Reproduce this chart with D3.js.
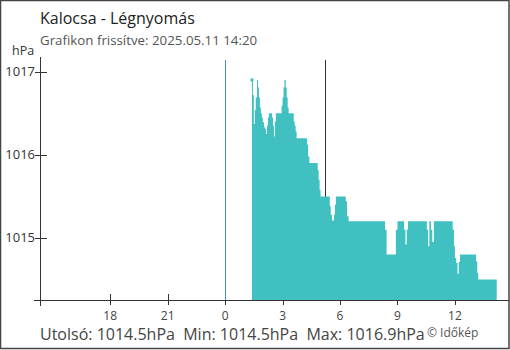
<!DOCTYPE html>
<html>
<head>
<meta charset="utf-8">
<script src="https://cdn.jsdelivr.net/npm/d3@7"></script>
<style>
  body { margin: 0; background: #fff; }
  svg { display: block; font-family: "Open Sans", sans-serif; }
</style>
</head>
<body>
<div id="chart"></div>
<script>
// Kalocsa légnyomás, 2025.05.11 (hPa)
var times = ["01:24","01:27","01:30","01:33","01:36","01:40","01:43","01:46","01:49","01:52",
  "01:55","01:58","02:02","02:05","02:08","02:11","02:14","02:17","02:27","02:30",
  "02:33","02:36","02:39","02:57","03:00","03:03","03:06","03:10","03:13","03:16",
  "03:19","03:35","03:38","03:41","03:44","04:17","04:20","04:24","04:50","04:53",
  "04:56","04:59","05:28","05:31","05:35","05:41","05:44","05:47","06:18","06:22",
  "06:27","08:21","08:26","08:55","09:00","09:21","09:25","09:29","09:33","10:32",
  "10:36","10:40","10:45","10:49","10:54","11:53","11:57","12:00","12:04","12:08",
  "12:12","12:16","13:06","13:10","13:13","14:11"];
var pressure = [1016.9,1016.72,1016.37,1016.54,1016.69,1016.9,1016.81,1016.69,1016.57,1016.5,
  1016.45,1016.39,1016.33,1016.31,1016.25,1016.35,1016.45,1016.5,1016.45,1016.35,
  1016.22,1016.4,1016.5,1016.59,1016.69,1016.81,1016.9,1016.81,1016.69,1016.57,
  1016.5,1016.4,1016.35,1016.28,1016.2,1016.12,1015.98,1015.9,1015.82,1015.7,
  1015.58,1015.5,1015.38,1015.28,1015.21,1015.28,1015.4,1015.5,1015.44,1015.26,
  1015.2,1015.1,1014.8,1015.1,1015.2,1015.1,1014.92,1015.1,1015.2,1015.1,
  1014.9,1015.2,1015.1,1014.95,1015.2,1015.1,1014.9,1014.76,1014.7,1014.57,
  1014.71,1014.8,1014.72,1014.58,1014.5,1014.5];

var xTickLabels = ["18","21","0","3","6","9","12"];
var xTickTimes = ["2025-05-10 18:00","2025-05-10 21:00","2025-05-11 00:00","2025-05-11 03:00",
  "2025-05-11 06:00","2025-05-11 09:00","2025-05-11 12:00"];
var yTickValues = [1015, 1016, 1017];
var sunrise = "05:12";

var W = 510, H = 350;
var margin = {left: 40, top: 57, bottom: 300};

var parse = d3.timeParse("%Y-%m-%d %H:%M");
var day = function(t) { return parse("2025-05-11 " + t); };

var data = times.map(function(t, i) { return {t: day(t), v: pressure[i]}; });

var x = d3.scaleTime()
  .domain([parse("2025-05-10 14:20"), parse("2025-05-11 14:20")])
  .range([margin.left, 499.6]);
var y = d3.scaleLinear()
  .domain([1014.254, 1017.176])
  .range([margin.bottom, margin.top]);

var svg = d3.select("#chart").append("svg")
  .attr("width", W)
  .attr("height", H);

// keret
svg.append("rect")
  .attr("x", 0.5).attr("y", 0.5)
  .attr("width", W - 1.5).attr("height", H - 2)
  .attr("fill", "#fff")
  .attr("stroke", "#444")
  .attr("stroke-width", 1.5);

// címek
svg.append("text")
  .attr("x", 40).attr("y", 24)
  .attr("font-size", 16)
  .attr("fill", "#222")
  .text("Kalocsa - Légnyomás");
svg.append("text")
  .attr("x", 40).attr("y", 45)
  .attr("font-size", 13.3)
  .attr("fill", "#555")
  .text("Grafikon frissítve: 2025.05.11 14:20");
svg.append("text")
  .attr("x", 12).attr("y", 55)
  .attr("font-size", 12.5)
  .attr("fill", "#333")
  .text("hPa");

// y tengely
var yAxis = svg.append("g");
yAxis.append("line")
  .attr("x1", 40.5).attr("x2", 40.5)
  .attr("y1", margin.top).attr("y2", 306)
  .attr("stroke", "#333");
yAxis.selectAll(".ytick")
  .data(yTickValues)
  .enter().append("line")
  .attr("class", "ytick")
  .attr("x1", 35).attr("x2", 47)
  .attr("y1", function(d) { return Math.round(y(d)) + 0.5; })
  .attr("y2", function(d) { return Math.round(y(d)) + 0.5; })
  .attr("stroke", "#333");
yAxis.selectAll(".ylabel")
  .data(yTickValues)
  .enter().append("text")
  .attr("class", "ylabel")
  .attr("x", 35)
  .attr("y", function(d) { return y(d) + 4.5; })
  .attr("text-anchor", "end")
  .attr("font-size", 13)
  .attr("fill", "#333")
  .text(function(d) { return d; });

// x tengely
var xTicks = xTickTimes.map(parse);
var xAxis = svg.append("g");
xAxis.append("line")
  .attr("x1", 34).attr("x2", W - 1)
  .attr("y1", 300.5).attr("y2", 300.5)
  .attr("stroke", "#333");
xAxis.selectAll(".xtick")
  .data(xTicks)
  .enter().append("line")
  .attr("class", "xtick")
  .attr("x1", function(d) { return Math.round(x(d)) + 0.5; })
  .attr("x2", function(d) { return Math.round(x(d)) + 0.5; })
  .attr("y1", 294).attr("y2", 305)
  .attr("stroke", "#333");
xAxis.selectAll(".xlabel")
  .data(xTicks)
  .enter().append("text")
  .attr("class", "xlabel")
  .attr("x", function(d) { return x(d); })
  .attr("y", 319.5)
  .attr("text-anchor", "middle")
  .attr("font-size", 12)
  .attr("fill", "#444")
  .text(function(d, i) { return xTickLabels[i]; });

// éjfél és napkelte
svg.append("line")
  .attr("x1", Math.round(x(day("00:00"))) + 0.5)
  .attr("x2", Math.round(x(day("00:00"))) + 0.5)
  .attr("y1", 60).attr("y2", 300)
  .attr("stroke", "#3d8fd6");
svg.append("line")
  .attr("x1", Math.round(x(day(sunrise))) + 0.5)
  .attr("x2", Math.round(x(day(sunrise))) + 0.5)
  .attr("y1", 60).attr("y2", 300)
  .attr("stroke", "#333");

// terület
var area = d3.area()
  .curve(d3.curveStepAfter)
  .x(function(d) { return x(d.t); })
  .y0(300)
  .y1(function(d) { return y(d.v); });

svg.append("path")
  .datum(data)
  .attr("d", area)
  .attr("fill", "#41c0c2");

svg.append("rect")
  .attr("x", x(data[0].t) - 1.5)
  .attr("y", y(data[0].v) - 1.5)
  .attr("width", 3).attr("height", 3)
  .attr("fill", "#41c0c2");

// összesítés
var f = d3.format(".1f");
var last = data[data.length - 1].v;
var vmin = d3.min(pressure), vmax = d3.max(pressure);
svg.append("text")
  .attr("x", 40).attr("y", 340)
  .attr("font-size", 16)
  .attr("fill", "#444")
  .style("white-space", "pre")
  .text("Utolsó: " + f(last) + "hPa  Min: " + f(vmin) + "hPa  Max: " + f(vmax) + "hPa");
svg.append("text")
  .attr("x", 427).attr("y", 336.5)
  .attr("font-size", 12)
  .attr("fill", "#555")
  .text("© Időkép");
</script>
</body>
</html>
